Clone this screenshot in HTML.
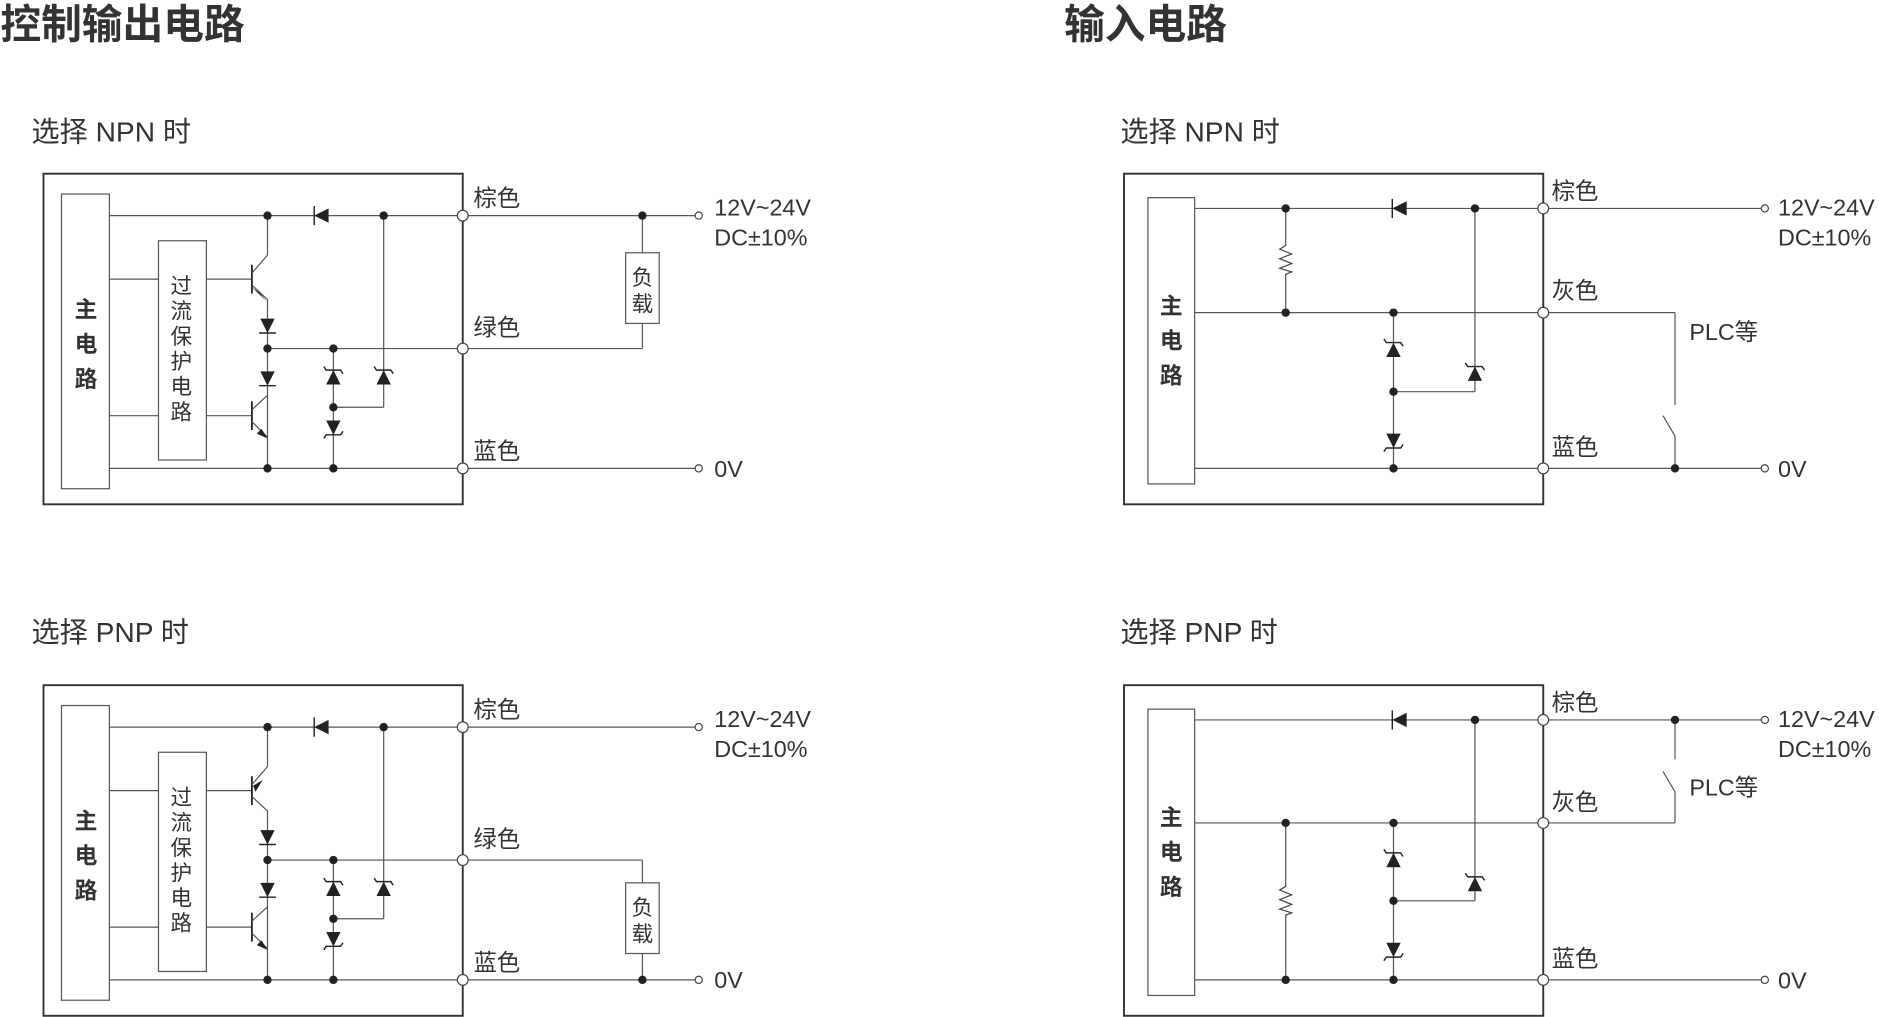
<!DOCTYPE html>
<html><head><meta charset="utf-8"><style>
html,body{margin:0;padding:0;background:#fff;}
svg{display:block;}
text{font-family:"Liberation Sans","Noto Sans CJK SC",sans-serif;fill:#333;}
</style></head><body>
<svg width="1879" height="1017" viewBox="0 0 1568 849" xmlns="http://www.w3.org/2000/svg">
<defs>
<g id="dd"><polygon points="-6,-6 6,-6 0,6" fill="#222"/><line x1="-7" y1="6" x2="7" y2="6" stroke="#222" stroke-width="1.2"/></g>
<g id="dl"><polygon points="6,-6 6,6 -6,0" fill="#222"/><line x1="-6" y1="-8" x2="-6" y2="8" stroke="#222" stroke-width="1.2"/></g>
<g id="zu"><polygon points="-6,6 6,6 0,-6" fill="#222"/><polyline points="-8,-9 -6,-6 6,-6 8,-3" fill="none" stroke="#222" stroke-width="1.2"/></g>
<g id="zd"><polygon points="-6,-6 6,-6 0,6" fill="#222"/><polyline points="-8,9 -6,6 6,6 8,3" fill="none" stroke="#222" stroke-width="1.2"/></g>
<g id="dot"><circle r="3.5" fill="#222"/></g>
<g id="tc"><circle r="4.5" fill="#fff" stroke="#444" stroke-width="1"/></g>
<g id="sc"><circle r="3" fill="#fff" stroke="#444" stroke-width="1"/></g>
<g id="res"><polyline points="0,-14 0,-12 -5,-9 5,-5 -5,-1 5,3 -5,7 5,10 0,12 0,14" fill="none" stroke="#444" stroke-width="1"/></g>
</defs>

<text x="0" y="32" font-size="34" font-weight="bold">控制输出电路</text>
<text x="888" y="32" font-size="34" font-weight="bold">输入电路</text>
<text x="26" y="118" font-size="23.5">选择 NPN 时</text>
<text x="26" y="536" font-size="23.5">选择 PNP 时</text>
<text x="935" y="118" font-size="23.5">选择 NPN 时</text>
<text x="935" y="536" font-size="23.5">选择 PNP 时</text>

<!-- ===== LEFT TOP (NPN output) ===== -->
<g stroke="#555" stroke-width="1" fill="none">
<rect x="36" y="145" width="350" height="276" stroke="#333" stroke-width="1.6"/>
<rect x="51" y="162" width="40" height="246"/>
<rect x="132" y="201" width="40" height="183"/>
<line x1="91" y1="180" x2="583" y2="180"/>
<line x1="91" y1="233" x2="132" y2="233"/><line x1="172" y1="233" x2="210" y2="233"/>
<line x1="91" y1="347" x2="132" y2="347"/><line x1="172" y1="347" x2="210" y2="347"/>
<line x1="91" y1="391" x2="583" y2="391"/>
<line x1="223" y1="291" x2="536" y2="291"/>
<line x1="536" y1="291" x2="536" y2="270"/>
<rect x="522" y="211" width="28" height="59"/>
<line x1="536" y1="180" x2="536" y2="211"/>
<line x1="223" y1="180" x2="223" y2="213"/>
<line x1="210" y1="221" x2="210" y2="245" stroke="#222" stroke-width="1.5"/>
<line x1="210" y1="228" x2="223" y2="213"/>
<line x1="210" y1="238" x2="223" y2="250"/>
<line x1="223" y1="250" x2="223" y2="391"/>
<line x1="210" y1="335" x2="210" y2="359" stroke="#222" stroke-width="1.5"/>
<line x1="210" y1="342" x2="223" y2="330"/>
<line x1="210" y1="352" x2="223" y2="365"/>
<line x1="278" y1="291" x2="278" y2="391"/>
<line x1="320" y1="180" x2="320" y2="340"/>
<line x1="278" y1="340" x2="320" y2="340"/>
</g>
<polygon points="216,244 210,240 223,252" fill="#222"/>
<polygon points="218,358 223,366 214,362" fill="#222"/>
<use href="#dl" x="268" y="180"/>
<use href="#dd" x="223" y="272"/><use href="#dd" x="223" y="316"/>
<use href="#zu" x="278" y="315"/><use href="#zd" x="278" y="357"/><use href="#zu" x="320" y="315"/>
<use href="#dot" x="223" y="180"/><use href="#dot" x="320" y="180"/><use href="#dot" x="536" y="180"/>
<use href="#dot" x="223" y="291"/><use href="#dot" x="278" y="291"/><use href="#dot" x="278" y="340"/>
<use href="#dot" x="223" y="391"/><use href="#dot" x="278" y="391"/>
<use href="#tc" x="386" y="180"/><use href="#tc" x="386" y="291"/><use href="#tc" x="386" y="391"/>
<use href="#sc" x="583" y="180"/><use href="#sc" x="583" y="391"/>
<text x="62" y="265" font-size="19" font-weight="bold">主</text>
<text x="62" y="294" font-size="19" font-weight="bold">电</text>
<text x="62" y="323" font-size="19" font-weight="bold">路</text>
<text x="142" y="245" font-size="18">过</text><text x="142" y="266" font-size="18">流</text><text x="142" y="287" font-size="18">保</text><text x="142" y="308" font-size="18">护</text><text x="142" y="329" font-size="18">电</text><text x="142" y="350" font-size="18">路</text>
<text x="527" y="238" font-size="18">负</text><text x="527" y="260" font-size="18">载</text>
<text x="395" y="172" font-size="19.5">棕色</text><text x="395" y="280" font-size="19.5">绿色</text><text x="395" y="383" font-size="19.5">蓝色</text>
<text x="596" y="180" font-size="19.5">12V~24V</text><text x="596" y="205" font-size="19.5">DC±10%</text><text x="596" y="398" font-size="19.5">0V</text>

<!-- ===== LEFT BOTTOM (PNP output) ===== -->
<g transform="translate(0,427)">
<g stroke="#555" stroke-width="1" fill="none">
<rect x="36" y="145" width="350" height="276" stroke="#333" stroke-width="1.6"/>
<rect x="51" y="162" width="40" height="246"/>
<rect x="132" y="201" width="40" height="183"/>
<line x1="91" y1="180" x2="583" y2="180"/>
<line x1="91" y1="233" x2="132" y2="233"/><line x1="172" y1="233" x2="210" y2="233"/>
<line x1="91" y1="347" x2="132" y2="347"/><line x1="172" y1="347" x2="210" y2="347"/>
<line x1="91" y1="391" x2="583" y2="391"/>
<line x1="223" y1="291" x2="536" y2="291"/>
<line x1="536" y1="291" x2="536" y2="310"/>
<rect x="522" y="310" width="28" height="59"/>
<line x1="536" y1="369" x2="536" y2="391"/>
<line x1="223" y1="180" x2="223" y2="213"/>
<line x1="210" y1="221" x2="210" y2="245" stroke="#222" stroke-width="1.5"/>
<line x1="210" y1="228" x2="223" y2="213"/>
<line x1="210" y1="238" x2="223" y2="250"/>
<line x1="223" y1="250" x2="223" y2="391"/>
<line x1="210" y1="335" x2="210" y2="359" stroke="#222" stroke-width="1.5"/>
<line x1="210" y1="342" x2="223" y2="330"/>
<line x1="210" y1="352" x2="223" y2="365"/>
<line x1="278" y1="291" x2="278" y2="391"/>
<line x1="320" y1="180" x2="320" y2="340"/>
<line x1="278" y1="340" x2="320" y2="340"/>
</g>
<polygon points="211,229 219,224 213,234" fill="#222"/>
<polygon points="218,358 223,366 214,362" fill="#222"/>
<use href="#dl" x="268" y="180"/>
<use href="#dd" x="223" y="272"/><use href="#dd" x="223" y="316"/>
<use href="#zu" x="278" y="315"/><use href="#zd" x="278" y="357"/><use href="#zu" x="320" y="315"/>
<use href="#dot" x="223" y="180"/><use href="#dot" x="320" y="180"/>
<use href="#dot" x="223" y="291"/><use href="#dot" x="278" y="291"/><use href="#dot" x="278" y="340"/>
<use href="#dot" x="223" y="391"/><use href="#dot" x="278" y="391"/><use href="#dot" x="536" y="391"/>
<use href="#tc" x="386" y="180"/><use href="#tc" x="386" y="291"/><use href="#tc" x="386" y="391"/>
<use href="#sc" x="583" y="180"/><use href="#sc" x="583" y="391"/>
<text x="62" y="265" font-size="19" font-weight="bold">主</text>
<text x="62" y="294" font-size="19" font-weight="bold">电</text>
<text x="62" y="323" font-size="19" font-weight="bold">路</text>
<text x="142" y="245" font-size="18">过</text><text x="142" y="266" font-size="18">流</text><text x="142" y="287" font-size="18">保</text><text x="142" y="308" font-size="18">护</text><text x="142" y="329" font-size="18">电</text><text x="142" y="350" font-size="18">路</text>
<text x="527" y="337" font-size="18">负</text><text x="527" y="359" font-size="18">载</text>
<text x="395" y="172" font-size="19.5">棕色</text><text x="395" y="280" font-size="19.5">绿色</text><text x="395" y="383" font-size="19.5">蓝色</text>
<text x="596" y="180" font-size="19.5">12V~24V</text><text x="596" y="205" font-size="19.5">DC±10%</text><text x="596" y="398" font-size="19.5">0V</text>
</g>

<!-- ===== RIGHT TOP (NPN input) ===== -->
<g stroke="#555" stroke-width="1" fill="none">
<rect x="938" y="145" width="350" height="276" stroke="#333" stroke-width="1.6"/>
<rect x="958" y="165" width="39" height="239"/>
<line x1="997" y1="174" x2="1473" y2="174"/>
<line x1="997" y1="261" x2="1398" y2="261"/>
<line x1="1398" y1="261" x2="1398" y2="338"/>
<line x1="1388" y1="347" x2="1398" y2="364"/>
<line x1="1398" y1="364" x2="1398" y2="391"/>
<line x1="997" y1="391" x2="1473" y2="391"/>
<line x1="1073" y1="174" x2="1073" y2="203"/><line x1="1073" y1="231" x2="1073" y2="261"/>
<line x1="1163" y1="261" x2="1163" y2="391"/>
<line x1="1231" y1="174" x2="1231" y2="327"/>
<line x1="1163" y1="327" x2="1231" y2="327"/>
</g>
<use href="#res" x="1073" y="217"/>
<use href="#dl" x="1168" y="174"/>
<use href="#zu" x="1163" y="292"/><use href="#zu" x="1231" y="312"/><use href="#zd" x="1163" y="368"/>
<use href="#dot" x="1073" y="174"/><use href="#dot" x="1231" y="174"/><use href="#dot" x="1073" y="261"/><use href="#dot" x="1163" y="261"/>
<use href="#dot" x="1163" y="327"/><use href="#dot" x="1163" y="391"/><use href="#dot" x="1398" y="391"/>
<use href="#tc" x="1288" y="174"/><use href="#tc" x="1288" y="261"/><use href="#tc" x="1288" y="391"/>
<use href="#sc" x="1473" y="174"/><use href="#sc" x="1473" y="391"/>
<text x="968" y="262" font-size="19" font-weight="bold">主</text>
<text x="968" y="291" font-size="19" font-weight="bold">电</text>
<text x="968" y="320" font-size="19" font-weight="bold">路</text>
<text x="1295" y="166" font-size="19.5">棕色</text><text x="1295" y="249" font-size="19.5">灰色</text><text x="1295" y="380" font-size="19.5">蓝色</text>
<text x="1410" y="284" font-size="19.5">PLC等</text>
<text x="1484" y="180" font-size="19.5">12V~24V</text><text x="1484" y="205" font-size="19.5">DC±10%</text><text x="1484" y="398" font-size="19.5">0V</text>

<!-- ===== RIGHT BOTTOM (PNP input) ===== -->
<g stroke="#555" stroke-width="1" fill="none">
<rect x="938" y="572" width="350" height="276" stroke="#333" stroke-width="1.6"/>
<rect x="958" y="592" width="39" height="239"/>
<line x1="997" y1="601" x2="1473" y2="601"/>
<line x1="1398" y1="601" x2="1398" y2="634"/>
<line x1="1388" y1="644" x2="1398" y2="661"/>
<line x1="1398" y1="661" x2="1398" y2="687"/>
<line x1="997" y1="687" x2="1398" y2="687"/>
<line x1="997" y1="818" x2="1473" y2="818"/>
<line x1="1073" y1="687" x2="1073" y2="738"/><line x1="1073" y1="766" x2="1073" y2="818"/>
<line x1="1163" y1="687" x2="1163" y2="818"/>
<line x1="1231" y1="601" x2="1231" y2="752"/>
<line x1="1163" y1="752" x2="1231" y2="752"/>
</g>
<use href="#res" x="1073" y="752"/>
<use href="#dl" x="1168" y="601"/>
<use href="#zu" x="1163" y="718"/><use href="#zu" x="1231" y="738"/><use href="#zd" x="1163" y="793"/>
<use href="#dot" x="1231" y="601"/><use href="#dot" x="1398" y="601"/><use href="#dot" x="1073" y="687"/><use href="#dot" x="1163" y="687"/>
<use href="#dot" x="1163" y="752"/><use href="#dot" x="1073" y="818"/><use href="#dot" x="1163" y="818"/>
<use href="#tc" x="1288" y="601"/><use href="#tc" x="1288" y="687"/><use href="#tc" x="1288" y="818"/>
<use href="#sc" x="1473" y="601"/><use href="#sc" x="1473" y="818"/>
<text x="968" y="689" font-size="19" font-weight="bold">主</text>
<text x="968" y="718" font-size="19" font-weight="bold">电</text>
<text x="968" y="747" font-size="19" font-weight="bold">路</text>
<text x="1295" y="593" font-size="19.5">棕色</text><text x="1295" y="676" font-size="19.5">灰色</text><text x="1295" y="807" font-size="19.5">蓝色</text>
<text x="1410" y="664" font-size="19.5">PLC等</text>
<text x="1484" y="607" font-size="19.5">12V~24V</text><text x="1484" y="632" font-size="19.5">DC±10%</text><text x="1484" y="825" font-size="19.5">0V</text>
</svg>
</body></html>
